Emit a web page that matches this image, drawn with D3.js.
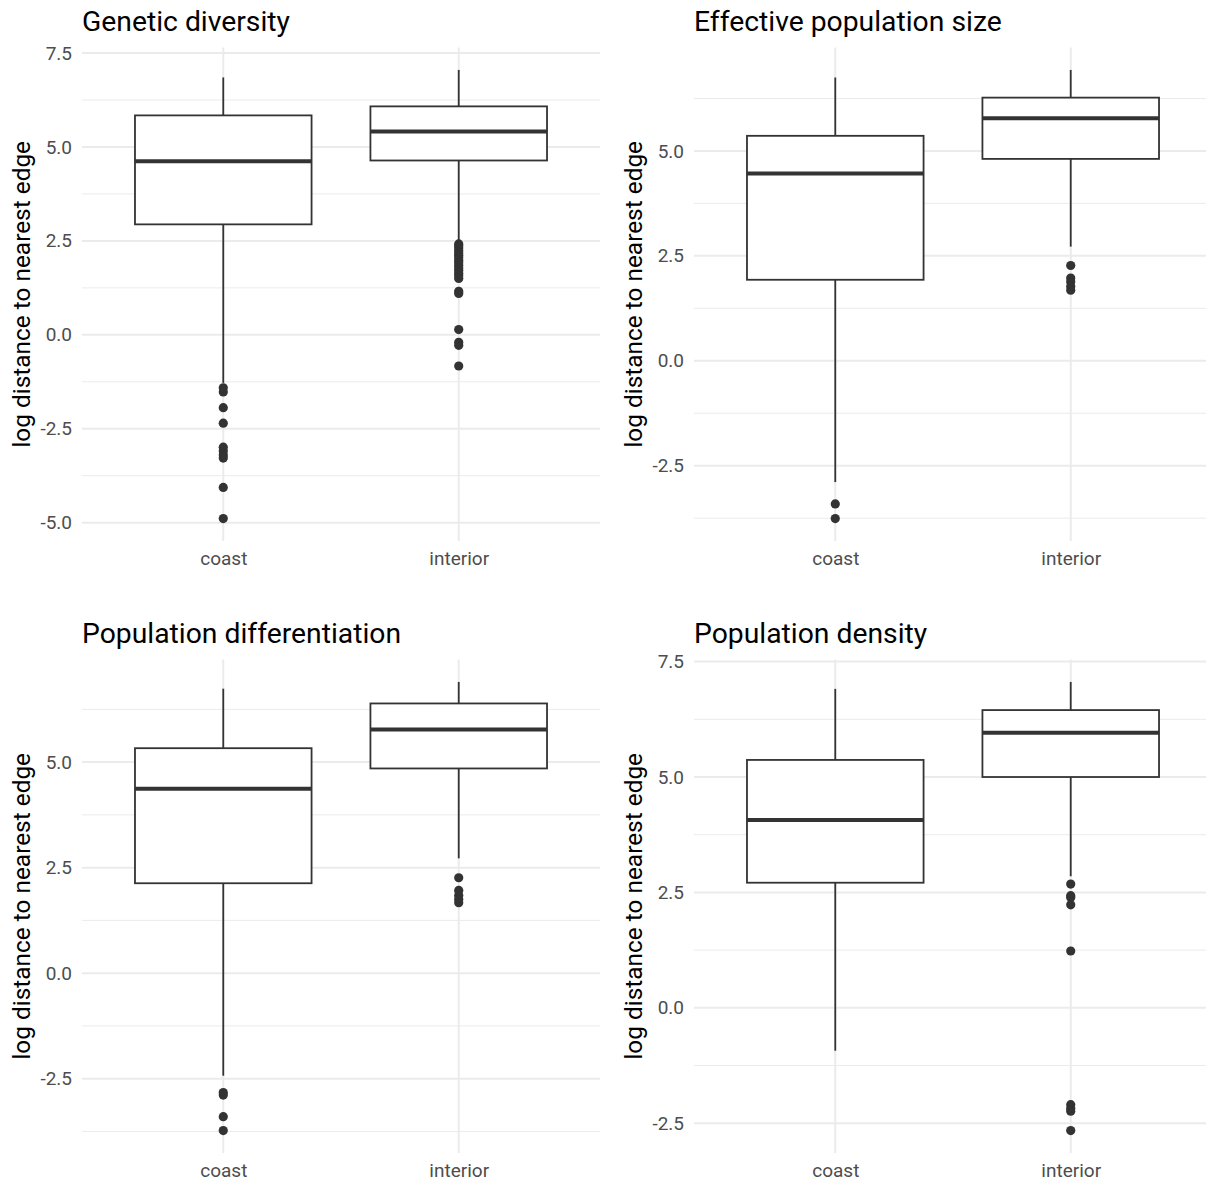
<!DOCTYPE html>
<html>
<head>
<meta charset="utf-8">
<script src="https://cdn.jsdelivr.net/npm/d3@7"></script>
<style>
  body { margin: 0; background: #fff; }
  svg { display: block; font-family: Roboto, "Noto Sans", sans-serif; }
</style>
</head>
<body>
<svg id="svg" width="1206" height="1183"></svg>
<script>
// panel titles, in reading order
const titles = ['Genetic diversity', 'Effective population size', 'Population differentiation', 'Population density'];
const categories = ['coast', 'interior'];

// box stats per panel: [lower whisker, q1, median, q3, upper whisker]
const coastStats = [
  [-1.28, 2.94, 4.62, 5.84, 6.85],
  [-2.89, 1.93, 4.46, 5.36, 6.75],
  [-2.43, 2.13, 4.37, 5.33, 6.74],
  [-0.93, 2.71, 4.07, 5.37, 6.91]
];
const interiorStats = [
  [2.50, 4.64, 5.41, 6.08, 7.05],
  [2.72, 4.81, 5.78, 6.27, 6.93],
  [2.72, 4.85, 5.77, 6.39, 6.90],
  [2.85, 5.00, 5.96, 6.45, 7.06]
];

// outliers per panel
const coastOutliers = [
  [-1.41, -1.52, -1.94, -2.35, -2.99, -3.09, -3.20, -3.28, -4.06, -4.89],
  [-3.41, -3.76],
  [-2.83, -2.89, -3.40, -3.73],
  []
];
const interiorOutliers = [
  [2.42, 2.37, 2.31, 2.24, 2.18, 2.12, 2.05, 1.98, 1.92, 1.85, 1.78, 1.71, 1.64, 1.57, 1.50,
   1.16, 1.10, 0.14, -0.20, -0.28, -0.83],
  [2.27, 1.97, 1.88, 1.77, 1.68],
  [2.26, 1.96, 1.84, 1.75, 1.67],
  [2.68, 2.43, 2.39, 2.23, 1.23, -2.10, -2.18, -2.24, -2.66]
];

const yLabel = 'log distance to nearest edge';

const config = {
  panelSize: 612,
  plotLeft: 82,
  plotRight: 600,
  plotTop: 47.5,
  plotBottom: 541,
  gridColour: '#ebebeb',
  boxColour: '#333333'
};

const svg = d3.select('#svg');

titles.forEach((title, i) => {
  const ox = (i % 2) * config.panelSize;
  const oy = Math.floor(i / 2) * config.panelSize;
  const g = svg.append('g').attr('transform', `translate(${ox},${oy})`);

  const stats = { coast: coastStats[i], interior: interiorStats[i] };
  const outs = { coast: coastOutliers[i], interior: interiorOutliers[i] };

  // y range like ggplot: data extent plus 5% each side
  const allVals = [].concat(stats.coast, stats.interior, outs.coast, outs.interior);
  const [lo, hi] = d3.extent(allVals);
  const pad = (hi - lo) * 0.05;

  const y = d3.scaleLinear()
    .domain([lo - pad, hi + pad])
    .range([config.plotBottom, config.plotTop]);

  const x = d3.scalePoint()
    .domain(categories)
    .range([config.plotLeft, config.plotRight])
    .padding(0.6);

  const majors = d3.range(-10, 10.01, 2.5).filter(v => v >= y.domain()[0] && v <= y.domain()[1]);
  const minors = d3.range(-8.75, 10, 2.5).filter(v => v >= y.domain()[0] && v <= y.domain()[1]);

  // grid
  g.append('g').selectAll('line.minor')
    .data(minors)
    .join('line')
    .attr('x1', config.plotLeft).attr('x2', config.plotRight)
    .attr('y1', d => y(d)).attr('y2', d => y(d))
    .attr('stroke', config.gridColour).attr('stroke-width', 1);

  g.append('g').selectAll('line.major')
    .data(majors)
    .join('line')
    .attr('x1', config.plotLeft).attr('x2', config.plotRight)
    .attr('y1', d => y(d)).attr('y2', d => y(d))
    .attr('stroke', config.gridColour).attr('stroke-width', 2);

  g.append('g').selectAll('line.vgrid')
    .data(categories)
    .join('line')
    .attr('x1', d => x(d)).attr('x2', d => x(d))
    .attr('y1', config.plotTop).attr('y2', config.plotBottom)
    .attr('stroke', config.gridColour).attr('stroke-width', 2);

  // axes, no domain or ticks, like theme_minimal
  const yAxisG = g.append('g')
    .attr('transform', `translate(${config.plotLeft},0)`)
    .call(d3.axisLeft(y).tickValues(majors).tickSize(0).tickPadding(10).tickFormat(d => d.toFixed(1)));
  yAxisG.select('path.domain').remove();
  yAxisG.selectAll('text')
    .attr('fill', '#4d4d4d')
    .style('font-size', '19px')
    .style('font-family', 'Roboto');

  const xAxisG = g.append('g')
    .attr('transform', `translate(0,${config.plotBottom})`)
    .call(d3.axisBottom(x).tickSize(0).tickPadding(11));
  xAxisG.select('path.domain').remove();
  xAxisG.selectAll('text')
    .attr('fill', '#4d4d4d')
    .style('font-size', '19px')
    .style('font-family', 'Roboto');

  // titles
  g.append('text')
    .attr('x', 82)
    .attr('y', 31)
    .attr('fill', '#000')
    .style('font-size', '28.3px')
    .text(title);

  g.append('text')
    .attr('transform', `translate(30,${(config.plotTop + config.plotBottom) / 2}) rotate(-90)`)
    .attr('text-anchor', 'middle')
    .attr('fill', '#000')
    .style('font-size', '24.4px')
    .text(yLabel);

  // boxes
  const bw = x.step() * 0.75;
  const boxes = g.append('g').selectAll('g.box')
    .data(categories)
    .join('g')
    .attr('class', 'box');

  boxes.append('line')
    .attr('x1', d => x(d)).attr('x2', d => x(d))
    .attr('y1', d => y(stats[d][4])).attr('y2', d => y(stats[d][3]))
    .attr('stroke', config.boxColour).attr('stroke-width', 1.8);

  boxes.append('line')
    .attr('x1', d => x(d)).attr('x2', d => x(d))
    .attr('y1', d => y(stats[d][1])).attr('y2', d => y(stats[d][0]))
    .attr('stroke', config.boxColour).attr('stroke-width', 1.8);

  boxes.append('rect')
    .attr('x', d => x(d) - bw / 2)
    .attr('y', d => y(stats[d][3]))
    .attr('width', bw)
    .attr('height', d => y(stats[d][1]) - y(stats[d][3]))
    .attr('fill', '#fff')
    .attr('stroke', config.boxColour)
    .attr('stroke-width', 1.8);

  boxes.append('line')
    .attr('x1', d => x(d) - bw / 2).attr('x2', d => x(d) + bw / 2)
    .attr('y1', d => y(stats[d][2])).attr('y2', d => y(stats[d][2]))
    .attr('stroke', config.boxColour).attr('stroke-width', 4);

  // outlier points
  const pts = categories.flatMap(c => outs[c].map(v => ({ cat: c, v: v })));
  g.append('g').selectAll('circle')
    .data(pts)
    .join('circle')
    .attr('cx', d => x(d.cat))
    .attr('cy', d => y(d.v))
    .attr('r', 4.6)
    .attr('fill', config.boxColour);
});
</script>
</body>
</html>
